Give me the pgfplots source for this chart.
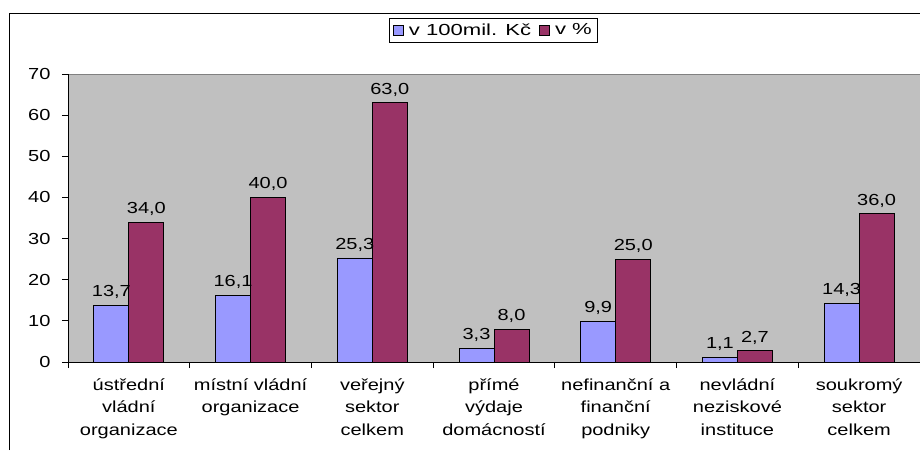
\documentclass[border=0pt]{standalone}
\usepackage{fontspec}
\setmainfont[FakeStretch=1.25]{Liberation Sans}
\newfontfamily\legfont[FakeStretch=1.38]{Liberation Sans}
\usepackage{pgfplots}
\pgfplotsset{compat=1.18}
\definecolor{plotgray}{HTML}{C0C0C0}
\definecolor{barblue}{HTML}{9999FF}
\definecolor{barmaroon}{HTML}{993366}
\pgfplotsset{/pgf/number format/assume math mode=true}
\begin{document}
\fontsize{16pt}{22pt}\selectfont
\begin{tikzpicture}
\useasboundingbox (0,0) rectangle (920pt,-450pt);
\draw[line width=1pt] (9.5pt,-450pt) -- (9.5pt,-13pt) -- (920pt,-13pt);
\begin{axis}[
  at={(68pt,-362pt)}, anchor=south west,
  scale only axis, width=852pt, height=288pt,
  xmin=-0.5, xmax=6.5, ymin=0, ymax=70,
  ybar=0pt, bar width=35pt,
  axis background/.style={fill=plotgray},
  axis line style={draw=none},
  tick align=outside,
  major tick length=6pt,
  tick style={black, line width=0.8pt},
  xtick pos=bottom, ytick pos=left,
  ytick={0,10,...,70},
  yticklabel style={font=\fontsize{16pt}{22pt}\selectfont, xshift=-6pt},
  xtick={-0.5,0.5,...,6.5},
  xticklabels={,,,,,,,,},
  extra x ticks={0,1,2,3,4,5,6},
  extra x tick labels={{ústřední\\vládní\\organizace},{místní vládní\\organizace},{veřejný\\sektor\\celkem},{přímé\\výdaje\\domácností},{nefinanční a\\finanční\\podniky},{nevládní\\neziskové\\instituce},{soukromý\\sektor\\celkem}},
  extra x tick style={major tick length=0pt, xticklabel style={align=center, anchor=north, yshift=-11pt, font=\fontsize{16pt}{22.5pt}\selectfont}},
  nodes near coords={\pgfmathprintnumber[fixed,fixed zerofill,precision=1,use comma]{\pgfplotspointmeta}},
  nodes near coords style={font=\fontsize{16pt}{22pt}\selectfont, anchor=south, yshift=1pt, black},
  legend columns=2,
  legend style={at={(axis description cs:0.4994,1.151)}, anchor=center, draw=black, line width=0.8pt, font=\legfont\fontsize{16pt}{22pt}\selectfont, inner xsep=4pt, inner ysep=3pt, /tikz/every odd column/.append style={column sep=3pt}, /tikz/every even column/.append style={column sep=6pt}},
  legend image code/.code={\draw[#1,draw=black,line width=0.8pt] (0pt,-5pt) rectangle (10pt,5pt);},
  clip=false,
]
\addplot[fill=barblue, draw=black, line width=0.8pt] coordinates {(0,13.7) (1,16.1) (2,25.3) (3,3.3) (4,9.9) (5,1.1) (6,14.3)};
\addlegendentry{v 100mil. Kč}
\addplot[fill=barmaroon, draw=black, line width=0.8pt] coordinates {(0,34.0) (1,40.0) (2,63.0) (3,8.0) (4,25.0) (5,2.7) (6,36.0)};
\addlegendentry{v \%}
\draw[gray, line width=1pt] (rel axis cs:0,1) -- (rel axis cs:1,1);
\draw[black, line width=1pt] (rel axis cs:0,1) -- (rel axis cs:0,0) -- (rel axis cs:1,0);
\end{axis}
\end{tikzpicture}
\end{document}
